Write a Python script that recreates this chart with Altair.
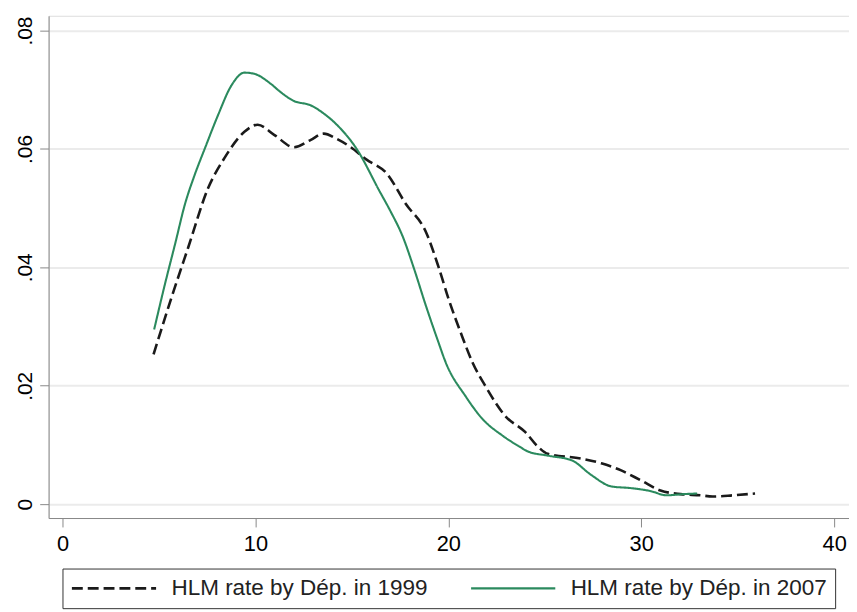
import altair as alt
import pandas as pd

series_names = ["HLM rate by Dép. in 1999", "HLM rate by Dép. in 2007"]

x_1999 = [4.72, 5.66, 6.52, 7.55, 8.4, 9.43, 10.12, 10.97, 12.0, 12.85, 13.54, 14.22,
          14.9, 15.76, 16.8, 17.8, 18.85, 19.5, 20.03, 20.64, 21.26, 21.93, 22.95,
          23.98, 24.65, 25.16, 26.9, 27.93, 28.96, 29.99, 31.0, 32.04, 33.07, 33.7,
          34.76, 35.9]
y_1999 = [0.0253, 0.0350, 0.0434, 0.0534, 0.0585, 0.0629, 0.0641, 0.0624, 0.0603,
          0.0615, 0.0626, 0.0617, 0.0604, 0.0582, 0.0559, 0.0507, 0.0459, 0.0400,
          0.0345, 0.0290, 0.0239, 0.0199, 0.0149, 0.0122, 0.0097, 0.0085, 0.0077,
          0.0069, 0.0057, 0.0040, 0.0023, 0.0017, 0.0015, 0.0013, 0.0015, 0.0018]

x_2007 = [4.75, 5.32, 5.84, 6.35, 6.86, 7.38, 8.06, 8.75, 9.43, 9.94, 10.8, 11.31,
          12.0, 12.85, 13.54, 14.22, 15.25, 16.43, 17.0, 17.65, 18.2, 18.85, 19.45,
          19.87, 20.9, 21.77, 22.8, 23.7, 24.13, 25.16, 26.4, 27.42, 28.45, 29.5,
          30.5, 31.3, 32.2, 32.9]
y_2007 = [0.0295, 0.0373, 0.0440, 0.0507, 0.0557, 0.0601, 0.0657, 0.0707, 0.0729,
          0.0727, 0.0710, 0.0696, 0.0681, 0.0674, 0.0660, 0.0641, 0.0600, 0.0529,
          0.0495, 0.0451, 0.0400, 0.0334, 0.0277, 0.0239, 0.0182, 0.0144, 0.0116,
          0.0097, 0.0089, 0.0082, 0.0074, 0.0049, 0.0030, 0.0027, 0.0022, 0.0015,
          0.0017, 0.0018]

x_ticks = [0, 10, 20, 30, 40]
y_ticks = [0, 0.02, 0.04, 0.06, 0.08]

rows = []
for i, (xv, yv) in enumerate(zip(x_1999, y_1999)):
    rows.append({"x": xv, "y": yv, "series": series_names[0], "order": i})
for i, (xv, yv) in enumerate(zip(x_2007, y_2007)):
    rows.append({"x": xv, "y": yv, "series": series_names[1], "order": i})
df = pd.DataFrame(rows)

FONT = "Liberation Sans"

legend_cfg = dict(
    title=None,
    orient="none",
    legendX=14,
    legendY=558,
    direction="horizontal",
    columns=2,
    symbolType="stroke",
    symbolSize=7225,
    symbolStrokeWidth=2.4,
    clipHeight=24,
    labelFontSize=22.7,
    labelFont=FONT,
    labelColor="#222222",
    labelLimit=600,
    labelOffset=14,
    columnPadding=42,
    padding=8,
    strokeColor="#333333",
)

chart = (
    alt.Chart(df)
    .mark_line(interpolate="monotone")
    .encode(
        x=alt.X(
            "x:Q",
            scale=alt.Scale(domain=[-0.72, 40.77], nice=False, zero=False),
            axis=alt.Axis(
                values=x_ticks,
                title=None,
                grid=False,
                format="d",
                labelFontSize=22,
                labelPadding=7,
                tickSize=9,
            ),
        ),
        y=alt.Y(
            "y:Q",
            scale=alt.Scale(domain=[-0.00234, 0.0825], nice=False, zero=False),
            axis=alt.Axis(
                values=y_ticks,
                title=None,
                grid=True,
                gridColor="#ebebeb",
                gridWidth=2,
                labelExpr="datum.value == 0 ? '0' : replace(format(datum.value, '.2f'), '0.', '.')",
                labelAngle=270,
                labelAlign="center",
                labelBaseline="alphabetic",
                labelFontSize=21,
                labelPadding=8,
                tickSize=9,
            ),
        ),
        color=alt.Color(
            "series:N",
            scale=alt.Scale(domain=series_names, range=["#1a1a1a", "#2b8a5e"]),
            legend=alt.Legend(**legend_cfg),
        ),
        strokeDash=alt.StrokeDash(
            "series:N",
            scale=alt.Scale(domain=series_names, range=[[11, 5], [1, 0]]),
            legend=alt.Legend(**legend_cfg),
        ),
        strokeWidth=alt.StrokeWidth(
            "series:N",
            scale=alt.Scale(domain=series_names, range=[2.6, 2.1]),
            legend=None,
        ),
        order="order:Q",
    )
    .properties(
        width=808,
        height=507,
        autosize=alt.AutoSizeParams(type="none"),
        padding={"left": 41, "top": 5, "right": 0, "bottom": 92},
        background="white",
    )
    .configure_view(stroke=None)
    .configure_axis(
        domainColor="#666666",
        domainWidth=1.5,
        tickColor="#666666",
        tickWidth=1.5,
        labelColor="#222222",
        labelFont=FONT,
    )
    .configure(font=FONT)
)

chart.save("out.html", embed_options={"renderer": "svg", "actions": False})
